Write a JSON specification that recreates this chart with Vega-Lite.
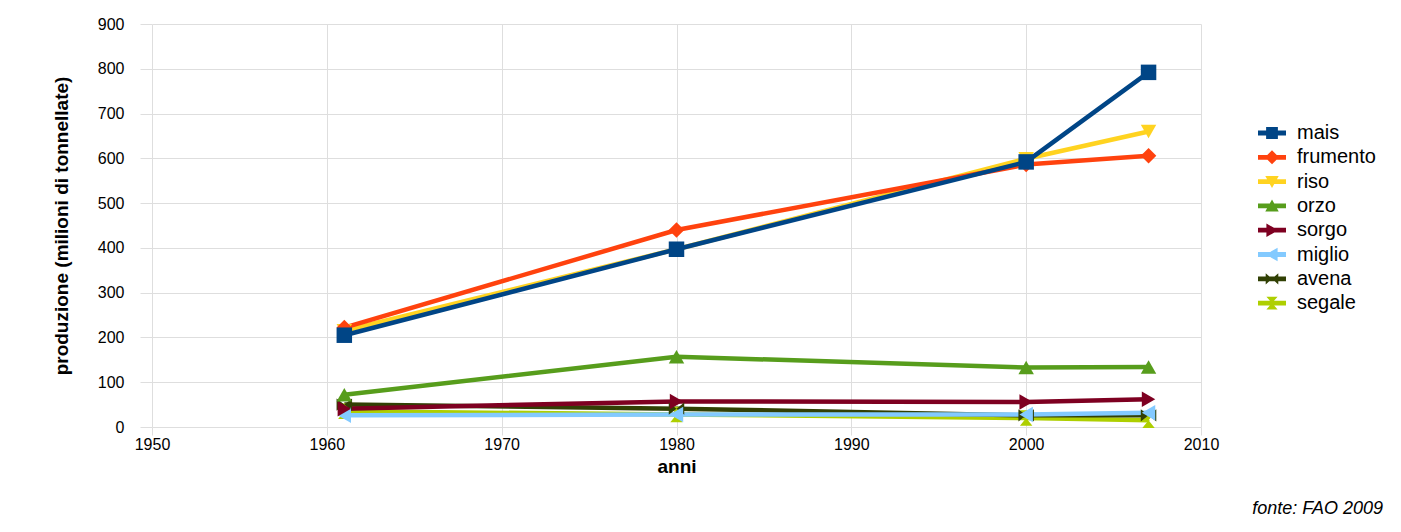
{
  "$schema": "https://vega.github.io/schema/vega-lite/v6.json",
  "width": 1049,
  "height": 403,
  "autosize": {"type": "none"},
  "padding": {"left": 152, "top": 24, "right": 200, "bottom": 105},
  "background": "white",
  "config": {
    "font": "Liberation Sans",
    "view": {"stroke": null},
    "axis": {
      "domain": false,
      "gridColor": "#dedede",
      "gridWidth": 1,
      "tickColor": "#dedede",
      "labelFont": "Liberation Sans",
      "labelFontSize": 16,
      "labelColor": "#000",
      "labelFlush": false,
      "titleFont": "Liberation Sans",
      "titleFontSize": 19,
      "titleFontWeight": "bold",
      "titleColor": "#000"
    },
    "legend": {
      "title": null,
      "symbolStrokeWidth": 0,
      "labelFont": "Liberation Sans",
      "labelFontSize": 20,
      "labelColor": "#000",
      "labelOffset": 11,
      "rowPadding": 0.3,
      "symbolSize": 784
    }
  },
  "title": {
    "text": "fonte: FAO 2009",
    "orient": "bottom",
    "anchor": "end",
    "frame": "group",
    "font": "Liberation Sans",
    "fontStyle": "italic",
    "fontWeight": "normal",
    "fontSize": 18,
    "color": "#000",
    "dx": 182,
    "offset": 24
  },
  "data": {
    "values": [
      {"anno": 1961, "cereale": "segale", "v": 35},
      {"anno": 1980, "cereale": "segale", "v": 28},
      {"anno": 2000, "cereale": "segale", "v": 20},
      {"anno": 2007, "cereale": "segale", "v": 15},
      {"anno": 1961, "cereale": "avena", "v": 50},
      {"anno": 1980, "cereale": "avena", "v": 41},
      {"anno": 2000, "cereale": "avena", "v": 26},
      {"anno": 2007, "cereale": "avena", "v": 26},
      {"anno": 1961, "cereale": "miglio", "v": 26},
      {"anno": 1980, "cereale": "miglio", "v": 28},
      {"anno": 2000, "cereale": "miglio", "v": 28},
      {"anno": 2007, "cereale": "miglio", "v": 32},
      {"anno": 1961, "cereale": "sorgo", "v": 41},
      {"anno": 1980, "cereale": "sorgo", "v": 57},
      {"anno": 2000, "cereale": "sorgo", "v": 56},
      {"anno": 2007, "cereale": "sorgo", "v": 62},
      {"anno": 1961, "cereale": "orzo", "v": 72},
      {"anno": 1980, "cereale": "orzo", "v": 157},
      {"anno": 2000, "cereale": "orzo", "v": 133},
      {"anno": 2007, "cereale": "orzo", "v": 134},
      {"anno": 1961, "cereale": "riso", "v": 215},
      {"anno": 1980, "cereale": "riso", "v": 397},
      {"anno": 2000, "cereale": "riso", "v": 599},
      {"anno": 2007, "cereale": "riso", "v": 660},
      {"anno": 1961, "cereale": "frumento", "v": 222},
      {"anno": 1980, "cereale": "frumento", "v": 440},
      {"anno": 2000, "cereale": "frumento", "v": 586},
      {"anno": 2007, "cereale": "frumento", "v": 606},
      {"anno": 1961, "cereale": "mais", "v": 205},
      {"anno": 1980, "cereale": "mais", "v": 397},
      {"anno": 2000, "cereale": "mais", "v": 592},
      {"anno": 2007, "cereale": "mais", "v": 792}
    ]
  },
  "encoding": {
    "x": {
      "field": "anno",
      "type": "quantitative",
      "scale": {"domain": [1950, 2010], "nice": false, "zero": false},
      "axis": {
        "title": "anni",
        "values": [1950, 1960, 1970, 1980, 1990, 2000, 2010],
        "format": "d",
        "tickSize": 8,
        "labelPadding": 1,
        "titlePadding": 5
      }
    },
    "y": {
      "field": "v",
      "type": "quantitative",
      "scale": {"domain": [0, 900], "nice": false},
      "axis": {
        "title": "produzione (milioni di tonnellate)",
        "values": [0, 100, 200, 300, 400, 500, 600, 700, 800, 900],
        "tickSize": 12,
        "labelPadding": 16,
        "titlePadding": 26
      }
    }
  },
  "layer": [
    {
      "mark": {"type": "line", "strokeWidth": 4.5, "strokeJoin": "round"},
      "encoding": {
        "color": {
          "field": "cereale",
          "type": "nominal",
          "scale": {
            "domain": ["mais", "frumento", "riso", "orzo", "sorgo", "miglio", "avena", "segale"],
            "range": ["#004586", "#ff420e", "#ffd320", "#579d1c", "#7e0021", "#83caff", "#314004", "#aecf00"]
          },
          "legend": null
        }
      }
    },
    {
      "mark": {"type": "point", "filled": true, "opacity": 1, "size": 8},
      "encoding": {
        "color": {
          "field": "cereale",
          "type": "nominal",
          "legend": {"orient": "none", "legendX": 1106, "legendY": 95}
        },
        "shape": {
          "field": "cereale",
          "type": "nominal",
          "scale": {
            "domain": ["mais", "frumento", "riso", "orzo", "sorgo", "miglio", "avena", "segale"],
            "range": [
              "M-1,-0.17H1V0.17H-1Z M-0.42,-0.42H0.42V0.42H-0.42Z",
              "M-1,-0.17H1V0.17H-1Z M0,-0.5L0.5,0L0,0.5L-0.5,0Z",
              "M-1,-0.17H1V0.17H-1Z M-0.48,-0.4L0.48,-0.4L0,0.45Z",
              "M-1,-0.17H1V0.17H-1Z M0,-0.45L0.48,0.4L-0.48,0.4Z",
              "M-1,-0.17H1V0.17H-1Z M-0.4,-0.48L0.45,0L-0.4,0.48Z",
              "M-1,-0.17H1V0.17H-1Z M0.4,-0.48L0.4,0.48L-0.45,0Z",
              "M-1,-0.17H1V0.17H-1Z M-0.45,-0.4L0,0L-0.45,0.4Z M0.45,-0.4L0.45,0.4L0,0Z",
              "M-1,-0.17H1V0.17H-1Z M-0.4,-0.45L0.4,-0.45L0,0Z M0.4,0.45L-0.4,0.45L0,0Z"
            ]
          },
          "legend": {"orient": "none", "legendX": 1106, "legendY": 95}
        }
      }
    },
    {
      "mark": {"type": "point", "filled": true, "opacity": 1, "size": 240},
      "encoding": {
        "color": {"field": "cereale", "type": "nominal", "legend": null},
        "shape": {
          "field": "cereale",
          "type": "nominal",
          "scale": {
            "domain": ["mais", "frumento", "riso", "orzo", "sorgo", "miglio", "avena", "segale"],
            "range": ["square", "diamond", "triangle-down", "triangle-up", "triangle-right", "triangle-left",
              "M-1,-0.8L0,0L-1,0.8Z M1,-0.8L1,0.8L0,0Z",
              "M-0.8,-1L0.8,-1L0,0Z M0.8,1L-0.8,1L0,0Z"]
          },
          "legend": null
        }
      }
    }
  ],
  "resolve": {"scale": {"shape": "independent"}, "legend": {"shape": "independent", "color": "independent"}}
}
